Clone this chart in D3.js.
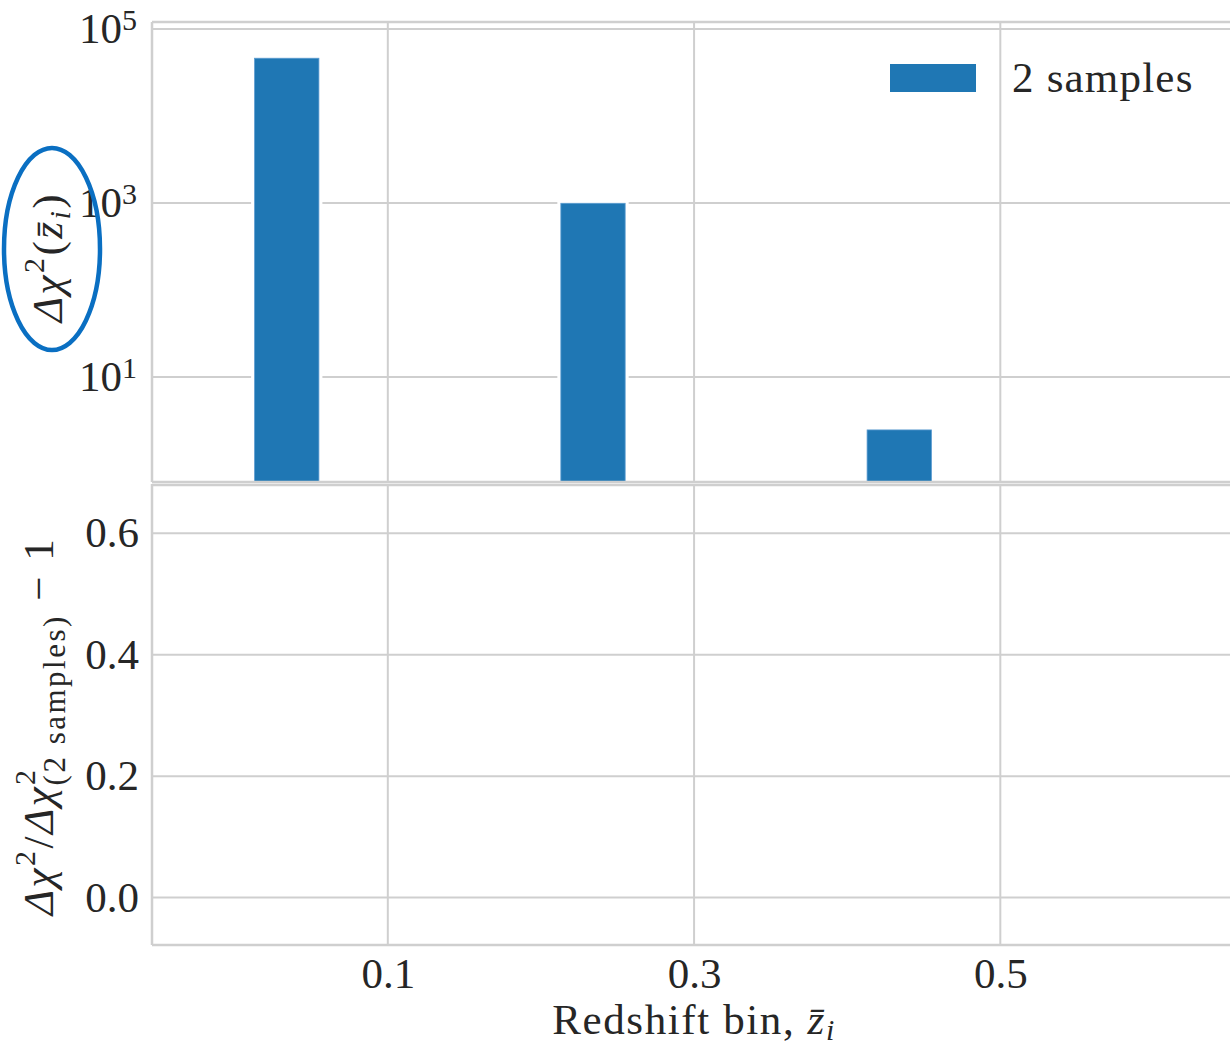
<!DOCTYPE html>
<html>
<head>
<meta charset="utf-8">
<script src="https://cdn.jsdelivr.net/npm/d3@7"></script>
<style>
  body { margin: 0; background: #fff; }
  svg { display: block; font-family: "Liberation Serif", "DejaVu Serif", serif; }
  .grid line { stroke: #cfcfcf; stroke-width: 2; }
  .spine { stroke: #cfcfcf; stroke-width: 2.5; }
</style>
</head>
<body>
<div id="chart"></div>
<script>
// data
const barZ = [0.034, 0.234, 0.434];        // bar centres on the redshift axis
const barWidth = 0.042;
const deltaChi2 = [46000, 990, 2.46];      // 2 samples
const seriesName = "2 samples";
const xTicks = [0.1, 0.3, 0.5];
const topTicks = [10, 1000, 100000];
const botTicks = [0.0, 0.2, 0.4, 0.6];

const W = 1230, H = 1045;
const left = 152, right = 1230;
const topPanel = { top: 22, bottom: 482 };
const botPanel = { top: 484, bottom: 945 };
const blue = "#1f77b4";

const svg = d3.select("#chart").append("svg")
  .attr("width", W)
  .attr("height", H);

const x = d3.scaleLinear().domain([-0.054, 0.650]).range([left, right]);
const yTop = d3.scaleLog().domain([0.62, 1.2e5]).range([topPanel.bottom, topPanel.top]);
const yBot = d3.scaleLinear().domain([-0.078, 0.681]).range([botPanel.bottom, botPanel.top]);

// gridlines
function vgrid(p) {
  svg.append("g").attr("class", "grid")
    .selectAll("line").data(xTicks).join("line")
    .attr("x1", d => x(d)).attr("x2", d => x(d))
    .attr("y1", p.top).attr("y2", p.bottom);
}
vgrid(topPanel);
vgrid(botPanel);

svg.append("g").attr("class", "grid")
  .selectAll("line").data(topTicks).join("line")
  .attr("x1", left).attr("x2", right)
  .attr("y1", d => yTop(d)).attr("y2", d => yTop(d));

svg.append("g").attr("class", "grid")
  .selectAll("line").data(botTicks).join("line")
  .attr("x1", left).attr("x2", right)
  .attr("y1", d => yBot(d)).attr("y2", d => yBot(d));

// bars, with a white halo that breaks the gridlines
const bars = svg.append("g");
bars.selectAll("rect.halo").data(deltaChi2).join("rect")
  .attr("class", "halo")
  .attr("x", (d, i) => x(barZ[i] - barWidth / 2) - 3.5)
  .attr("width", x(barWidth) - x(0) + 7)
  .attr("y", d => yTop(d) - 3)
  .attr("height", d => topPanel.bottom - yTop(d) + 3)
  .attr("fill", "#fff");
bars.selectAll("rect.bar").data(deltaChi2).join("rect")
  .attr("class", "bar")
  .attr("x", (d, i) => x(barZ[i] - barWidth / 2))
  .attr("width", x(barWidth) - x(0))
  .attr("y", d => yTop(d))
  .attr("height", d => topPanel.bottom - yTop(d))
  .attr("fill", blue)
  .attr("stroke", "#5b9bd0")
  .attr("stroke-width", 0.8);

// spines
svg.append("line").attr("class", "spine")
  .attr("x1", left).attr("x2", right).attr("y1", topPanel.top).attr("y2", topPanel.top);
svg.append("line").attr("class", "spine")
  .attr("x1", left).attr("x2", right).attr("y1", topPanel.bottom).attr("y2", topPanel.bottom);
svg.append("line").attr("class", "spine")
  .attr("x1", left).attr("x2", right).attr("y1", botPanel.top + 1).attr("y2", botPanel.top + 1);
svg.append("line").attr("class", "spine")
  .attr("x1", left).attr("x2", right).attr("y1", botPanel.bottom).attr("y2", botPanel.bottom);
svg.append("line").attr("class", "spine")
  .attr("x1", left).attr("x2", left).attr("y1", topPanel.top).attr("y2", topPanel.bottom);
svg.append("line").attr("class", "spine")
  .attr("x1", left).attr("x2", left).attr("y1", botPanel.top).attr("y2", botPanel.bottom);

// axes
const fs = 43;
const axTop = svg.append("g")
  .attr("transform", `translate(${left},0)`)
  .call(d3.axisLeft(yTop).tickValues(topTicks).tickSize(0).tickPadding(15));
axTop.selectAll("text").each(function (d) {
  const t = d3.select(this).text("");
  t.append("tspan").text("10");
  t.append("tspan").attr("dy", "-0.45em").attr("font-size", 30)
    .text(Math.round(Math.log10(d)));
});

const axBot = svg.append("g")
  .attr("transform", `translate(${left},0)`)
  .call(d3.axisLeft(yBot).tickValues(botTicks).tickSize(0).tickPadding(13)
    .tickFormat(d3.format(".1f")));

const axX = svg.append("g")
  .attr("transform", `translate(0,${botPanel.bottom})`)
  .call(d3.axisBottom(x).tickValues(xTicks).tickSize(0).tickPadding(12)
    .tickFormat(d3.format(".1f")));

[axTop, axBot, axX].forEach(a => {
  a.select(".domain").remove();
  a.selectAll("text")
    .attr("font-family", "Liberation Serif, serif")
    .attr("font-size", fs)
    .attr("fill", "#262626");
});

// axis labels
const xl = svg.append("text")
  .attr("x", x(0.3)).attr("y", 1034)
  .attr("text-anchor", "middle")
  .attr("letter-spacing", 1.6)
  .attr("font-size", fs).attr("fill", "#262626");
xl.append("tspan").text("Redshift bin, ");
xl.append("tspan").attr("font-style", "italic").text("z\u0304");
xl.append("tspan").attr("font-style", "italic").attr("font-size", 30).attr("dy", 6).text("i");

const yl1 = svg.append("text")
  .attr("transform", "translate(62,257) rotate(-90)")
  .attr("text-anchor", "middle")
  .attr("letter-spacing", 2.5)
  .attr("font-size", fs).attr("fill", "#262626");
yl1.append("tspan").attr("font-style", "italic").text("\u0394\u03c7");
yl1.append("tspan").attr("font-size", 30).attr("dy", -18).text("2");
yl1.append("tspan").attr("dy", 18).text("(");
yl1.append("tspan").attr("font-style", "italic").text("z\u0304");
yl1.append("tspan").attr("font-style", "italic").attr("font-size", 30).attr("dy", 8).text("i");
yl1.append("tspan").attr("dy", -8).text(")");

const yl2 = svg.append("text")
  .attr("transform", "translate(53,726) rotate(-90)")
  .attr("text-anchor", "middle")
  .attr("letter-spacing", 2.5)
  .attr("font-size", fs).attr("fill", "#262626");
yl2.append("tspan").attr("font-style", "italic").text("\u0394\u03c7");
yl2.append("tspan").attr("font-size", 30).attr("dy", -18).text("2");
yl2.append("tspan").attr("dy", 18).text("/");
yl2.append("tspan").attr("font-style", "italic").text("\u0394\u03c7");
yl2.append("tspan").attr("font-size", 30).attr("dy", -18).text("2");
yl2.append("tspan").attr("font-size", 31).attr("dx", -18).attr("dy", 30).text("(2 samples)");
yl2.append("tspan").attr("dy", -12).text(" \u2212 1");

// legend
const lg = svg.append("g").attr("transform", "translate(890,64)");
lg.append("rect").attr("width", 86).attr("height", 28).attr("fill", blue);
lg.append("text").attr("x", 122).attr("y", 28)
  .attr("letter-spacing", 1.2)
  .attr("font-size", fs).attr("fill", "#262626").text(seriesName);

// hand-drawn highlight around the top y label
svg.append("ellipse")
  .attr("cx", 52).attr("cy", 249).attr("rx", 48).attr("ry", 101)
  .attr("fill", "none").attr("stroke", "#0a6fc2").attr("stroke-width", 4.5);
</script>
</body>
</html>
